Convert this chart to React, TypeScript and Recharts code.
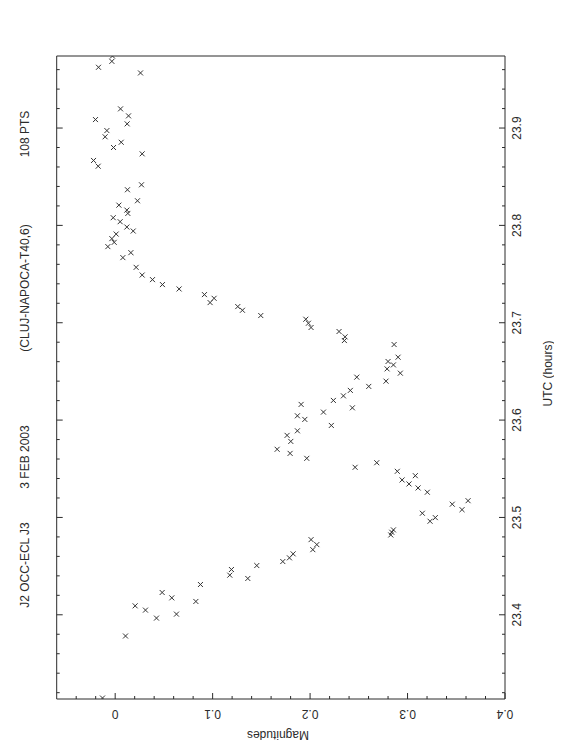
import { ScatterChart, Scatter, XAxis, YAxis } from "recharts";

// UTC (hours) and magnitude of each measured point, read top to bottom
const UTC_HOURS = [
    23.974, 23.9685, 23.9624, 23.9566, 23.9197, 23.9087, 23.9125, 23.9043, 23.8974, 23.891,
    23.8854, 23.88, 23.8735, 23.8667, 23.8608, 23.8417, 23.8366, 23.8253, 23.8208, 23.8157,
    23.8123, 23.8079, 23.8038, 23.7983, 23.7942, 23.7911, 23.7864, 23.7826, 23.7782, 23.772,
    23.7669, 23.7569, 23.749, 23.7443, 23.7392, 23.7347, 23.7289, 23.7251, 23.7207, 23.7166,
    23.7128, 23.7074, 23.7036, 23.6995, 23.6951, 23.691, 23.6855, 23.6817, 23.6776, 23.6646,
    23.6602, 23.6567, 23.6526, 23.6482, 23.6441, 23.64, 23.6346, 23.6305, 23.6249, 23.6202,
    23.6161, 23.6126, 23.6082, 23.6044, 23.6007, 23.5945, 23.589, 23.5843, 23.5781, 23.57,
    23.5658, 23.5607, 23.5562, 23.5515, 23.5474, 23.5429, 23.5385, 23.5344, 23.5303, 23.5259,
    23.5172, 23.5136, 23.508, 23.5043, 23.4998, 23.4961, 23.4872, 23.4848, 23.482, 23.4772,
    23.4721, 23.4669, 23.4626, 23.4585, 23.4547, 23.4506, 23.4465, 23.4407, 23.4373, 23.4311,
    23.4229, 23.4174, 23.4137, 23.4092, 23.4048, 23.4007, 23.3966, 23.3782, 23.3145,
];

const MAGNITUDES = [
    -0.0028, -0.0034, -0.0171, 0.026, 0.0055, -0.0202, 0.0137, 0.0123, -0.0085, -0.0103,
    0.0062, -0.0017, 0.0277, -0.0222, -0.0174, 0.027, 0.0126, 0.0229, 0.0038, 0.012,
    0.013, -0.002, 0.0051, 0.012, 0.0185, 0.001, -0.0034, -0.001, -0.0075, 0.0161,
    0.0079, 0.0215, 0.0277, 0.0383, 0.0485, 0.0656, 0.0916, 0.1015, 0.0974, 0.1258,
    0.1306, 0.1494, 0.1956, 0.1983, 0.201, 0.2297, 0.2359, 0.2352, 0.2862, 0.2903,
    0.28, 0.2855, 0.279, 0.2926, 0.2479, 0.2779, 0.2602, 0.2413, 0.2342, 0.2239,
    0.1908, 0.2434, 0.2137, 0.187, 0.1946, 0.2218, 0.187, 0.1764, 0.1802, 0.1662,
    0.1795, 0.1966, 0.2684, 0.2462, 0.2895, 0.308, 0.2944, 0.3015, 0.3108, 0.3203,
    0.3621, 0.3459, 0.3559, 0.3152, 0.3285, 0.3231, 0.2855, 0.2838, 0.2828, 0.201,
    0.2069, 0.2028, 0.1826, 0.1788, 0.172, 0.1453, 0.1193, 0.1176, 0.1361, 0.0875,
    0.0482, 0.0581, 0.0828, 0.0205, 0.0311, 0.0629, 0.0424, 0.0106, -0.013,
];

const MAG_DOMAIN = [-0.06, 0.4];
const UTC_DOMAIN = [23.3135, 23.974];

const MAG_TICKS = [
    -0.04, -0.02, 0, 0.02, 0.04, 0.06, 0.08, 0.1, 0.12, 0.14, 0.16, 0.18, 0.2,
    0.22, 0.24, 0.26, 0.28, 0.3, 0.32, 0.34, 0.36, 0.38, 0.4,
];
const MAG_LABELS = [0, 0.1, 0.2, 0.3, 0.4];

const UTC_TICKS = [
    23.32, 23.34, 23.36, 23.38, 23.4, 23.42, 23.44, 23.46, 23.48, 23.5, 23.52,
    23.54, 23.56, 23.58, 23.6, 23.62, 23.64, 23.66, 23.68, 23.7, 23.72, 23.74,
    23.76, 23.78, 23.8, 23.82, 23.84, 23.86, 23.88, 23.9, 23.92, 23.94, 23.96,
];
const UTC_LABELS = [23.4, 23.5, 23.6, 23.7, 23.8, 23.9];

const TITLE_PARTS = ["J2 OCC-ECL J3", "3 FEB 2003", "(CLUJ-NAPOCA-T40,6)", "108 PTS"];

const W = 554;
const H = 736;
const PLOT = { left: 48.7, top: 48, right: 497, bottom: 691 };
const INK = "#2b2b2b";
const FONT = "'Liberation Sans', Arial, sans-serif";
const MAJOR = 6;
const MINOR = 3;

const isLabel = (v: number, labels: number[]) => labels.some((l) => Math.abs(l - v) < 1e-6);

const data = UTC_HOURS.map((t, i) => ({ utc: t, mag: MAGNITUDES[i] }));

function BottomTick({ x, y, payload }: any) {
    const major = isLabel(payload.value, MAG_LABELS);
    return (
        <g>
            <line x1={x} x2={x} y1={y} y2={y - (major ? MAJOR : MINOR)} stroke={INK} />
            {major && (
                <text x={x} y={y + 15} textAnchor="middle" dominantBaseline="central" fontSize={12}
                    fontFamily={FONT} fill={INK} transform={`rotate(180 ${x} ${y + 15})`}>
                    {payload.value === 0 ? "0" : String(payload.value)}
                </text>
            )}
        </g>
    );
}

function TopTick({ x, y, payload }: any) {
    const major = isLabel(payload.value, MAG_LABELS);
    return <line x1={x} x2={x} y1={y} y2={y + (major ? MAJOR : MINOR)} stroke={INK} />;
}

function LeftTick({ x, y, payload }: any) {
    const major = isLabel(payload.value, UTC_LABELS);
    return <line x1={x} x2={x + (major ? MAJOR : MINOR)} y1={y} y2={y} stroke={INK} />;
}

function RightTick({ x, y, payload }: any) {
    const major = isLabel(payload.value, UTC_LABELS);
    return (
        <g>
            <line x1={x} x2={x - (major ? MAJOR : MINOR)} y1={y} y2={y} stroke={INK} />
            {major && (
                <text x={x + 12.5} y={y} textAnchor="middle" dominantBaseline="central" fontSize={12}
                    fontFamily={FONT} fill={INK} transform={`rotate(-90 ${x + 12.5} ${y})`}>
                    {payload.value.toFixed(1)}
                </text>
            )}
        </g>
    );
}

function Cross({ cx, cy }: any) {
    const s = 2.5;
    return (
        <path d={`M${cx - s},${cy - s}L${cx + s},${cy + s}M${cx - s},${cy + s}L${cx + s},${cy - s}`}
            stroke="#333" strokeWidth={1} fill="none" />
    );
}

export default function App() {
    const midY = (PLOT.top + PLOT.bottom) / 2;
    const titleY = [557, 449, 280, 126];
    const utcX = PLOT.right + 43;
    return (
        <div style={{ position: "relative", width: W, height: H }}>
            <ScatterChart width={W} height={H}
                margin={{ top: PLOT.top - 1, left: PLOT.left - 1, right: W - PLOT.right - 1, bottom: H - PLOT.bottom - 1 }}>
                <XAxis xAxisId="bottom" dataKey="mag" type="number" domain={MAG_DOMAIN} allowDataOverflow
                    ticks={MAG_TICKS} interval={0} height={1} tickSize={0} tickMargin={0} tickLine={false}
                    axisLine={{ stroke: INK }} tick={<BottomTick />} />
                <XAxis xAxisId="top" orientation="top" type="number" domain={MAG_DOMAIN} allowDataOverflow
                    ticks={MAG_TICKS} interval={0} height={1} tickSize={0} tickMargin={0} tickLine={false}
                    axisLine={{ stroke: INK }} tick={<TopTick />} />
                <YAxis yAxisId="left" dataKey="utc" type="number" domain={UTC_DOMAIN} allowDataOverflow
                    ticks={UTC_TICKS} interval={0} width={1} tickSize={0} tickMargin={0} tickLine={false}
                    axisLine={{ stroke: INK }} tick={<LeftTick />} />
                <YAxis yAxisId="right" orientation="right" type="number" domain={UTC_DOMAIN} allowDataOverflow
                    ticks={UTC_TICKS} interval={0} width={1} tickSize={0} tickMargin={0} tickLine={false}
                    axisLine={{ stroke: INK }} tick={<RightTick />} />
                <Scatter xAxisId="bottom" yAxisId="left" data={data} shape={<Cross />} isAnimationActive={false} />
            </ScatterChart>
            <svg width={W} height={H} style={{ position: "absolute", left: 0, top: 0, pointerEvents: "none" }}>
                <text x={270} y={PLOT.bottom + 36} textAnchor="middle" dominantBaseline="central" fontSize={12}
                    fontFamily={FONT} fill={INK} transform={`rotate(180 270 ${PLOT.bottom + 36})`}>
                    Magnitudes
                </text>
                <text x={utcX} y={midY - 4} textAnchor="middle" dominantBaseline="central" fontSize={12}
                    fontFamily={FONT} fill={INK} transform={`rotate(-90 ${utcX} ${midY - 4})`}>
                    UTC (hours)
                </text>
                {TITLE_PARTS.map((t, i) => (
                    <text key={t} x={17} y={titleY[i]} textAnchor="middle" dominantBaseline="central" fontSize={12}
                        fontFamily={FONT} fill={INK} transform={`rotate(-90 17 ${titleY[i]})`}>
                        {t}
                    </text>
                ))}
            </svg>
        </div>
    );
}
